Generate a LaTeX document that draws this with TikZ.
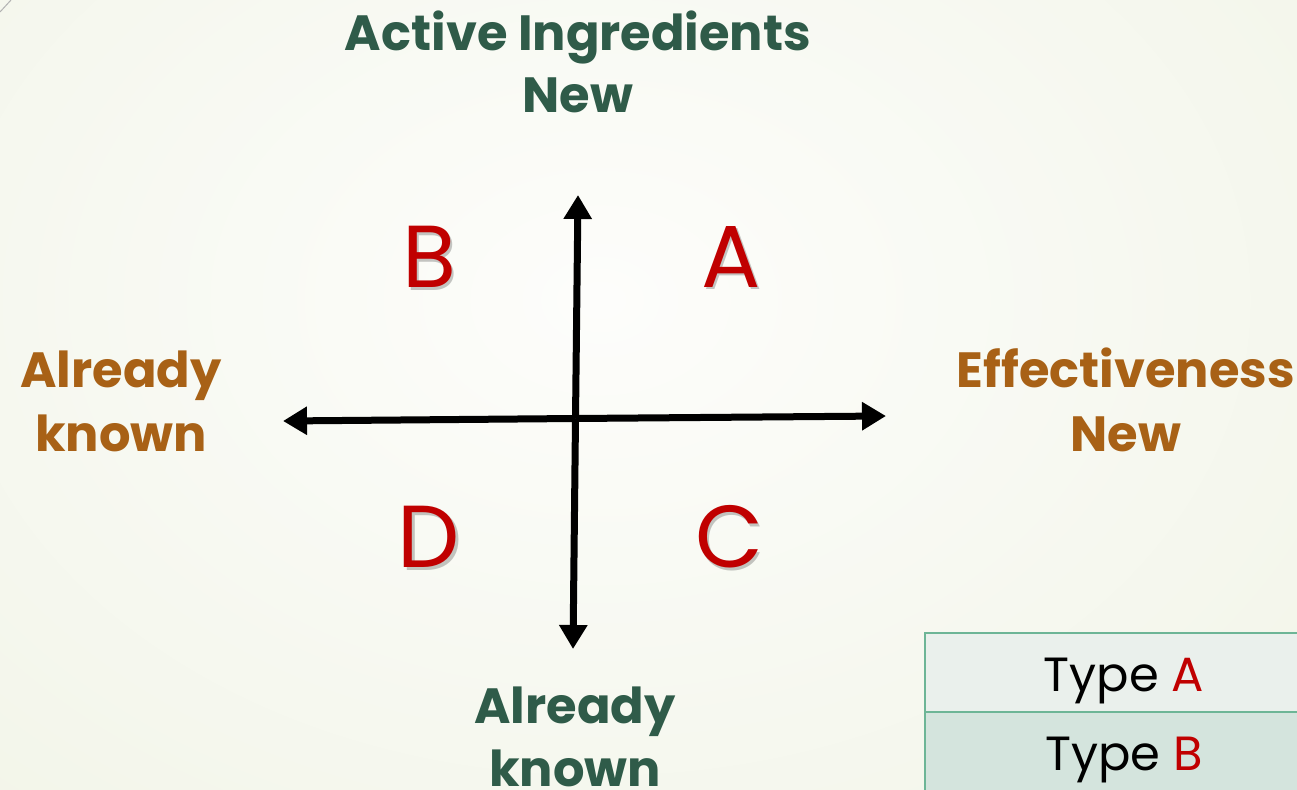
\documentclass[tikz,border=0pt]{standalone}
\usepackage{fontspec}
\setmainfont{Poppins}
\usetikzlibrary{arrows.meta}
\definecolor{bgin}{HTML}{FDFDFB}
\definecolor{bgout}{HTML}{EEF2E2}
\definecolor{axisgreen}{HTML}{2F5B49}
\definecolor{axisbrown}{HTML}{A86116}
\definecolor{quadred}{HTML}{C00000}
\definecolor{rowlight}{HTML}{EAF0EC}
\definecolor{rowdark}{HTML}{D4E4DD}
\definecolor{rowline}{HTML}{6DB596}
\tikzset{
  axisline/.style={line width=7pt, -{Triangle[length=24pt,width=27pt]}},
  greenlabel/.style={anchor=base, inner sep=0pt, text=axisgreen, font=\fontsize{49.5}{60}\selectfont\bfseries},
  brownlabel/.style={anchor=base, inner sep=0pt, text=axisbrown, font=\fontsize{49.5}{60}\selectfont\bfseries},
  quadletter/.style={inner sep=0pt, text=quadred, font=\fontsize{88}{100}\selectfont},
  quadshadow/.style={inner sep=0pt, text=black, opacity=0.22, font=\fontsize{88}{100}\selectfont},
  typecell/.style={draw=rowline, line width=2.5pt},
  typetext/.style={anchor=base, inner sep=0pt, font=\fontsize{48}{56}\selectfont},
}
\begin{document}
\begin{tikzpicture}[x=1pt,y=-1pt]
  \useasboundingbox (0,0) rectangle (1297,789);
  \clip (0,0) rectangle (1297,789);
  % slide background
  \shade[inner color=bgin, outer color=bgout] (-700,-650) rectangle (1900,1250);
  \draw[gray!60, line width=1pt] (0,12) -- (11,0);

  % axis end points
  \coordinate (left)   at (283,421);
  \coordinate (right)  at (886,416);
  \coordinate (top)    at (578,195);
  \coordinate (bottom) at (573,649);
  \coordinate (mid)    at (575.5,418.5);

  \draw[axisline] (mid) -- (left);
  \draw[axisline] (mid) -- (right);
  \draw[axisline] (mid) -- (top);
  \draw[axisline] (mid) -- (bottom);

  % axis labels
  \node[greenlabel] (topline1) at (578,51) {Active Ingredients};
  \node[greenlabel] (topline2) at (578,113) {New};
  \node[greenlabel] (botline1) at (575,723) {Already};
  \node[greenlabel] (botline2) at (575,786) {known};
  \node[brownlabel] (leftline1) at (121,387) {Already};
  \node[brownlabel] (leftline2) at (121,451) {known};
  \node[brownlabel] (rightline1) at (1126,387) {Effectiveness};
  \node[brownlabel] (rightline2) at (1126,451) {New};

  % quadrant letters with soft shadow
  \foreach \n/\l/\px/\py in {qb/B/429/257, qa/A/731/257, qd/D/429/537, qc/C/729/537} {
    \node[quadshadow] at (\px+2.5,\py+2.5) {\l};
    \node[quadletter] (\n) at (\px,\py) {\l};
  }

  % type table
  \draw[typecell, fill=rowlight] (925,633) rectangle (1310,712);
  \draw[typecell, fill=rowdark] (925,712) rectangle (1310,800);
  \node[typetext] (typea) at (1124,691) {Type \textcolor{quadred}{A}};
  \node[typetext] (typeb) at (1124,770) {Type \textcolor{quadred}{B}};
\end{tikzpicture}
\end{document}
